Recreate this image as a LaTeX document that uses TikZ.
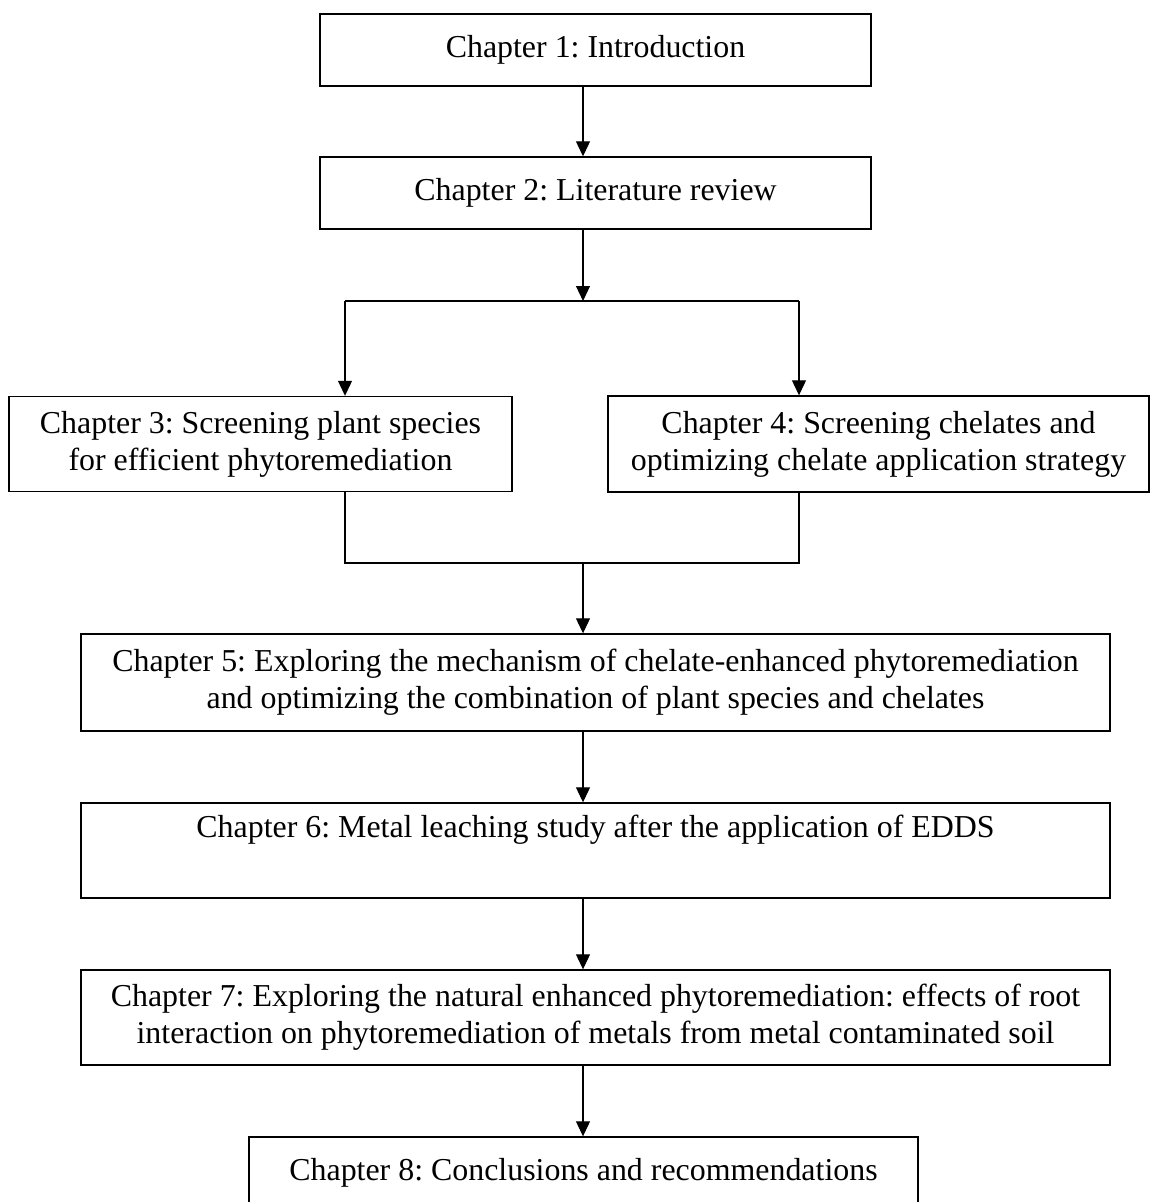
\documentclass[tikz,border=0pt]{standalone}
\usepackage{fontspec}
\setmainfont{Liberation Serif}
\usetikzlibrary{arrows.meta}
\frenchspacing
\begin{document}
\begin{tikzpicture}[x=1pt,y=-1pt,
  box/.style={draw, line width=1.4pt, inner sep=0pt, align=center,
    font=\fontsize{31.9}{37}\selectfont},
  arr/.style={line width=1.1pt, -{Triangle[length=15pt,width=14pt]}},
  ln/.style={line width=1.1pt}]
\useasboundingbox (0,0) rectangle (1150,1202);
\clip (0,0) rectangle (1150,1202);
\coordinate (spine) at (583,0);
\node[box, minimum width=551pt, minimum height=72pt] (c1) at (595.5,50) {Chapter 1: Introduction};
\node[box, minimum width=551pt, minimum height=72pt] (c2) at (595.5,193) {Chapter 2: Literature review};
\node[box, minimum width=503pt, minimum height=95pt] (c3) at (260.5,444) {Chapter 3: Screening plant species\\for efficient phytoremediation};
\node[box, minimum width=541pt, minimum height=96pt] (c4) at (878.5,444) {Chapter 4: Screening chelates and\\optimizing chelate application strategy};
\node[box, minimum width=1029pt, minimum height=97pt] (c5) at (595.5,682.5) {Chapter 5: Exploring the mechanism of chelate-enhanced phytoremediation\\and optimizing the combination of plant species and chelates};
\node[box, minimum width=1029pt, minimum height=95pt] (c6) at (595.5,850.5) {Chapter 6: Metal leaching study after the application of EDDS\\\strut};
\node[box, minimum width=1029pt, minimum height=95pt] (c7) at (595.5,1017.5) {Chapter 7: Exploring the natural enhanced phytoremediation: effects of root\\interaction on phytoremediation of metals from metal contaminated soil};
\node[box, minimum width=669pt, minimum height=72pt] (c8) at (583.5,1173) {Chapter 8: Conclusions and recommendations};
% connectors
\coordinate (j1) at (583,301);
\coordinate (l3) at (345,301);
\coordinate (l4) at (799,301);
\coordinate (j2) at (583,563);
\coordinate (m3) at (345,563);
\coordinate (m4) at (799,563);
\draw[arr] (c1.south -| spine) -- (c2.north -| spine);
\draw[arr] (c2.south -| spine) -- (j1);
\draw[ln] (l3) -- (l4);
\draw[arr] (l3) -- (c3.north -| l3);
\draw[arr] (l4) -- (c4.north -| l4);
\draw[ln] (c3.south -| m3) -- (m3) -- (m4) -- (c4.south -| m4);
\draw[arr] (j2) -- (c5.north -| spine);
\draw[arr] (c5.south -| spine) -- (c6.north -| spine);
\draw[arr] (c6.south -| spine) -- (c7.north -| spine);
\draw[arr] (c7.south -| spine) -- (c8.north -| spine);
\end{tikzpicture}
\end{document}
